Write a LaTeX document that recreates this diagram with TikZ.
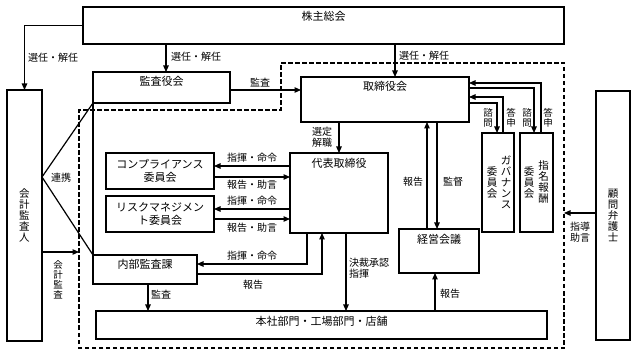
\documentclass[tikz,border=0pt]{standalone}
\usepackage{fontspec}
\setmainfont{Noto Sans CJK JP}
\usetikzlibrary{arrows.meta}
\begin{document}
\begin{tikzpicture}[x=1pt,y=-1pt,
  box/.style={draw, line width=1.3pt, anchor=north west, inner sep=0pt, outer sep=0pt},
  arr/.style={line width=1.2pt, -{Triangle[length=6.5pt,width=5.5pt]}},
  ln/.style={line width=1.2pt},
  dashbox/.style={line width=1.2pt, dash pattern=on 4.5pt off 2.5pt},
  btxt/.style={font=\fontsize{11}{12.5}\selectfont, inner sep=0pt, align=center},
  lbl/.style={font=\fontsize{10}{11}\selectfont, inner sep=0pt, align=center},
  vtxt/.style={font=\fontsize{10.5}{11}\selectfont, inner sep=0pt, align=center},
  vlbl/.style={font=\fontsize{9.5}{10}\selectfont, inner sep=0pt, align=center},
]
\useasboundingbox (0,0) rectangle (637,355);

% dashed region
\draw[dashbox] (281,63) -- (564,63) -- (564,348) -- (79,348) -- (79,110) -- (281,110) -- cycle;

% boxes
\node[box, minimum width=481pt, minimum height=37pt] (kabu) at (83,7) {};
\node[box, minimum width=137pt, minimum height=31pt] (kansayaku) at (93,72) {};
\node[box, minimum width=168pt, minimum height=45pt] (torishimari) at (301,77) {};
\node[box, minimum width=35pt, minimum height=251pt] (kaikei) at (7,90) {};
\node[box, minimum width=34pt, minimum height=249pt] (komon) at (596,91) {};
\node[box, minimum width=108pt, minimum height=36pt] (comp) at (106,153) {};
\node[box, minimum width=108pt, minimum height=36pt] (risk) at (106,196) {};
\node[box, minimum width=98pt, minimum height=80pt] (daihyo) at (290,153) {};
\node[box, minimum width=104pt, minimum height=29pt] (naibu) at (93,255) {};
\node[box, minimum width=451pt, minimum height=28pt] (honsha) at (96,311) {};
\node[box, minimum width=80pt, minimum height=44pt] (keiei) at (399,229) {};
\node[box, minimum width=32pt, minimum height=99pt] (gov) at (482,133) {};
\node[box, minimum width=33pt, minimum height=99pt] (shimei) at (520,133) {};

% box texts
\node[btxt] at ([yshift=-9.5pt]kabu.north) {株主総会};
\node[btxt] at ([yshift=-9.5pt]kansayaku.north) {監査役会};
\node[btxt] at ([yshift=-9pt]torishimari.north) {取締役会};
\node[btxt] at ([yshift=-10pt]daihyo.north) {代表取締役};
\node[btxt] at ([yshift=-9.5pt]naibu.north) {内部監査課};
\node[btxt] at ([yshift=-10pt]honsha.north) {本社部門・工場部門・店舗};
\node[btxt] at ([yshift=-10pt]keiei.north) {経営会議};
\node[btxt] at (comp.center) {コンプライアンス\\委員会};
\node[btxt] at (risk.center) {リスクマネジメン\\ト委員会};
\node[vtxt] at (kaikei.center) {会\\計\\監\\査\\人};
\node[vtxt] at (komon.center) {顧\\問\\弁\\護\\士};
\node[vtxt] at ([xshift=8pt]gov.center) {ガ\\バ\\ナ\\ン\\ス};
\node[vtxt] at ([xshift=-6pt]gov.center) {委\\員\\会};
\node[vtxt] at ([xshift=7pt]shimei.center) {指\\名\\報\\酬};
\node[vtxt] at ([xshift=-7.5pt]shimei.center) {委\\員\\会};

% helper coordinates
\coordinate (X166) at (166,0);
\coordinate (X395) at (395,0);
\coordinate (X307) at (307,0);
\coordinate (X322) at (322,0);
\coordinate (X346) at (346,0);
\coordinate (X148) at (148,0);
\coordinate (X435) at (435,0);
\coordinate (X427) at (427,0);
\coordinate (X437) at (437,0);
\coordinate (X541) at (541,0);
\coordinate (X534) at (534,0);
\coordinate (X503) at (503,0);
\coordinate (X497) at (497,0);
\coordinate (Y90) at (0,90);
\coordinate (Y166) at (0,166);
\coordinate (Y177) at (0,177);
\coordinate (Y209) at (0,209);
\coordinate (Y219) at (0,219);
\coordinate (Y264) at (0,264);
\coordinate (Y274) at (0,274);
\coordinate (Y83) at (0,83);
\coordinate (Y88) at (0,88);
\coordinate (Y97) at (0,97);
\coordinate (Y103) at (0,103);
\coordinate (dashL) at (79,252);
\coordinate (dashR) at (564,213);

% connectors
\draw[arr] (kabu.west) -| (kaikei.north);
\draw[arr] (X166 |- kabu.south) -- (X166 |- kansayaku.north);
\draw[arr] (X395 |- kabu.south) -- (X395 |- torishimari.north);
\draw[arr] (kansayaku.east |- Y90) -- (torishimari.west |- Y90);
\draw[arr] (daihyo.north |- torishimari.south) -- (daihyo.north);
\draw[arr] (daihyo.west |- Y166) -- (comp.east |- Y166);
\draw[arr] (comp.east |- Y177) -- (daihyo.west |- Y177);
\draw[arr] (daihyo.west |- Y209) -- (risk.east |- Y209);
\draw[arr] (risk.east |- Y219) -- (daihyo.west |- Y219);
\draw[arr] (X307 |- daihyo.south) |- (naibu.east |- Y264);
\draw[arr] (naibu.east |- Y274) -| (X322 |- daihyo.south);
\draw[arr] (X346 |- daihyo.south) -- (X346 |- honsha.north);
\draw[arr] (X148 |- naibu.south) -- (X148 |- honsha.north);
\draw[arr] (X435 |- honsha.north) -- (X435 |- keiei.south);
\draw[arr] (X427 |- keiei.north) -- (X427 |- torishimari.south);
\draw[arr] (X437 |- torishimari.south) -- (X437 |- keiei.north);
\draw[arr] (X541 |- shimei.north) |- (torishimari.east |- Y83);
\draw[arr] (torishimari.east |- Y88) -| (X534 |- shimei.north);
\draw[arr] (X503 |- gov.north) |- (torishimari.east |- Y97);
\draw[arr] (torishimari.east |- Y103) -| (X497 |- gov.north);
\draw[ln] (kansayaku.south west) -- (kaikei.east |- Y177) -- (naibu.north west);
\draw[ln] (kansayaku.south west) -- (naibu.north west);
\draw[arr] (kaikei.east |- dashL) -- (dashL);
\draw[arr] (komon.west |- dashR) -- (dashR);

% labels
\node[lbl] at (53,58) {選任・解任};
\node[lbl] at (196,57) {選任・解任};
\node[lbl] at (424,56) {選任・解任};
\node[lbl] at (260,83) {監査};
\node[lbl] at (322,137.5) {選定\\解職};
\node[lbl] at (252,158) {指揮・命令};
\node[lbl] at (252,185) {報告・助言};
\node[lbl] at (252,201) {指揮・命令};
\node[lbl] at (252,228) {報告・助言};
\node[lbl] at (252,256) {指揮・命令};
\node[lbl] at (253,285) {報告};
\node[lbl] at (161,295) {監査};
\node[lbl, anchor=west, align=left] at (349,268.5) {決裁承認\\指揮};
\node[lbl] at (450,294) {報告};
\node[lbl] at (413,182) {報告};
\node[lbl] at (453,182) {監督};
\node[lbl] at (580,232.5) {指導\\助言};
\node[lbl] at (61,178) {連携};
\node[vlbl] at (58,280) {会\\計\\監\\査};
\node[vlbl] at (488,118) {諮\\問};
\node[vlbl] at (511,118) {答\\申};
\node[vlbl] at (527,118) {諮\\問};
\node[vlbl] at (548,118) {答\\申};
\end{tikzpicture}
\end{document}
